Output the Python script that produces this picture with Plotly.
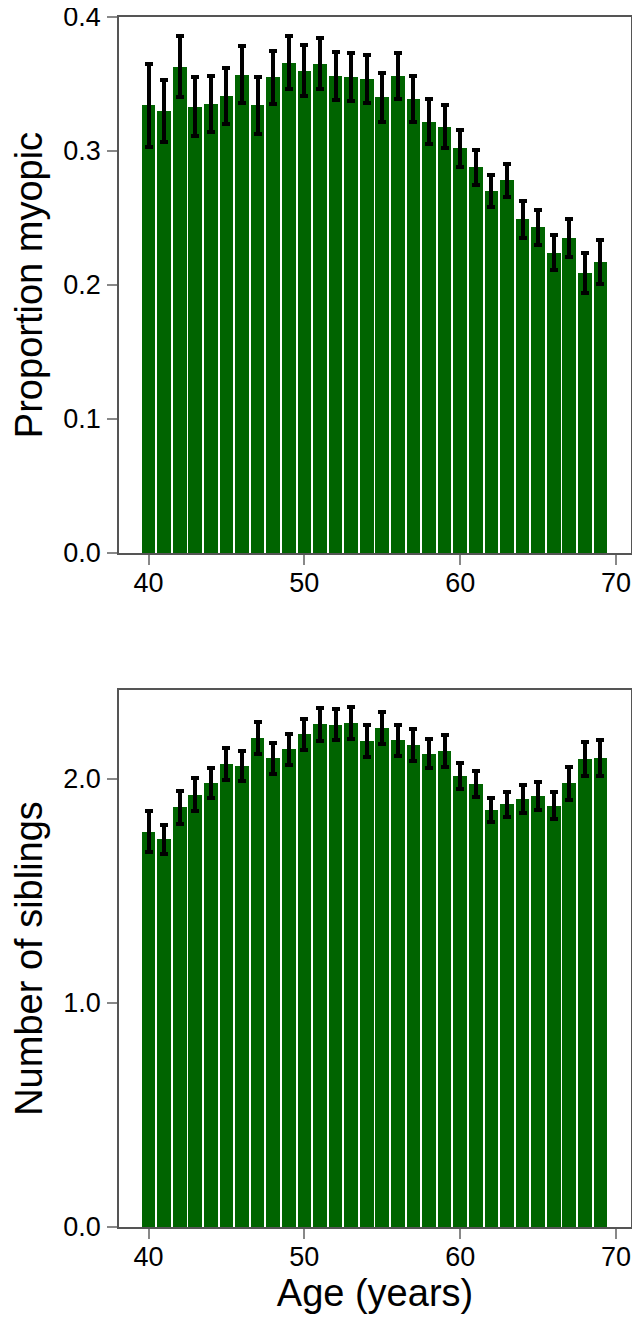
import plotly.graph_objects as go

ages = list(range(40, 70))

myopic = [0.334, 0.330, 0.363, 0.333, 0.335, 0.341, 0.357, 0.334, 0.355, 0.366,
          0.360, 0.365, 0.356, 0.355, 0.354, 0.340, 0.356, 0.339, 0.322, 0.318,
          0.302, 0.288, 0.270, 0.278, 0.249, 0.243, 0.224, 0.235, 0.209, 0.217]
myopic_err = [0.031, 0.023, 0.023, 0.022, 0.021, 0.021, 0.021, 0.021, 0.020, 0.020,
              0.019, 0.019, 0.018, 0.018, 0.018, 0.018, 0.017, 0.017, 0.0165, 0.016,
              0.014, 0.013, 0.012, 0.012, 0.014, 0.013, 0.013, 0.014, 0.015, 0.0165]

siblings = [1.764, 1.731, 1.874, 1.929, 1.981, 2.068, 2.058, 2.183, 2.092, 2.132,
            2.199, 2.244, 2.241, 2.248, 2.171, 2.226, 2.172, 2.153, 2.113, 2.123,
            2.012, 1.978, 1.862, 1.887, 1.911, 1.924, 1.881, 1.981, 2.089, 2.094]
siblings_err = [0.092, 0.065, 0.074, 0.074, 0.066, 0.071, 0.068, 0.070, 0.069, 0.068,
                0.070, 0.074, 0.069, 0.071, 0.072, 0.071, 0.070, 0.071, 0.066, 0.071,
                0.058, 0.058, 0.053, 0.055, 0.062, 0.063, 0.062, 0.073, 0.077, 0.082]

x_ticks = [40, 50, 60, 70]
y1_ticks = [0.0, 0.1, 0.2, 0.3, 0.4]
y2_ticks = [0.0, 1.0, 2.0]

BAR = "#006400"
FONT = "Liberation Sans, Arial, sans-serif"
TITLE_FONT = dict(family=FONT, size=38, color="black")

fig = go.Figure()
fig.add_trace(go.Bar(x=ages, y=myopic, width=0.88, marker=dict(color=BAR, line=dict(width=0)),
                     error_y=dict(type="data", array=myopic_err, color="black", thickness=4, width=4),
                     xaxis="x", yaxis="y", showlegend=False))
fig.add_trace(go.Bar(x=ages, y=siblings, width=0.88, marker=dict(color=BAR, line=dict(width=0)),
                     error_y=dict(type="data", array=siblings_err, color="black", thickness=4, width=4),
                     xaxis="x2", yaxis="y2", showlegend=False))

axis_common = dict(showline=True, linecolor="#555555", linewidth=1.5, mirror=True,
                   ticks="outside", ticklen=10, tickcolor="#888888", tickwidth=1.5,
                   showgrid=False, zeroline=False, automargin=False,
                   ticklabeloverflow="allow",
                   tickfont=dict(family=FONT, size=27, color="black"))

fig.update_layout(
    template="none",
    width=632, height=1307,
    margin=dict(l=111, r=9, t=9, b=88, pad=0),
    paper_bgcolor="white", plot_bgcolor="white",
    bargap=0,
    xaxis=dict(domain=[0, 1], anchor="y", range=[38.105, 70.96], tickvals=x_ticks,
               ticklabelstandoff=-5, **axis_common),
    yaxis=dict(domain=[0.557, 1], anchor="x", range=[0, 0.4], tickvals=y1_ticks,
               tickformat=".1f", ticklabelstandoff=1,
               title=dict(text="Proportion myopic", font=TITLE_FONT, standoff=21),
               **axis_common),
    xaxis2=dict(domain=[0, 1], anchor="y2", range=[38.105, 70.96], tickvals=x_ticks,
                ticklabelstandoff=-5,
                title=dict(text="Age (years)", font=TITLE_FONT, standoff=5),
                **axis_common),
    yaxis2=dict(domain=[0, 0.4438], anchor="x2", range=[0, 2.397], tickvals=y2_ticks,
                tickformat=".1f", ticklabelstandoff=1,
                title=dict(text="Number of siblings", font=TITLE_FONT, standoff=21),
                **axis_common),
)

fig.write_html("out.html")
